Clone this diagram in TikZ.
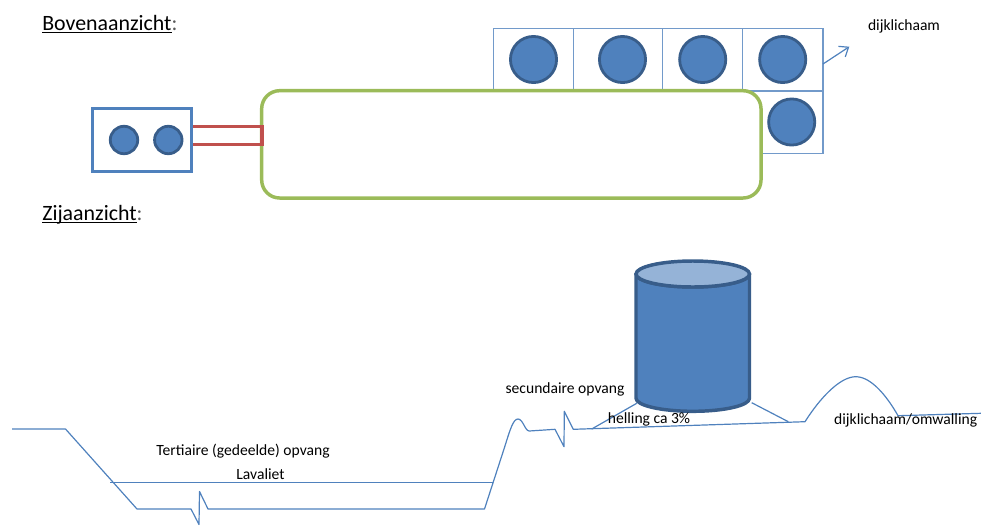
\documentclass[tikz,border=0pt]{standalone}
\usetikzlibrary{arrows.meta}
\usepackage{fontspec}
\setmainfont{Carlito}
\definecolor{bluefill}{HTML}{4F81BD}
\definecolor{bluedark}{HTML}{385D8A}
\definecolor{greenline}{HTML}{9BBB59}
\definecolor{redline}{HTML}{C0504D}
\definecolor{toplight}{HTML}{95B3D7}
\newcommand{\headtext}[1]{\underline{\smash{#1}}\textcolor{black!65}{:}}
\tikzset{
  thinline/.style={draw=bluefill,line width=.9pt,line join=round},
  gridline/.style={draw=bluefill!80,line width=.8pt},
  disc/.style={circle,draw=bluedark,fill=bluefill,line width=2.1pt,inner sep=0pt},
  label/.style={inner sep=0pt,font=\fontsize{11.7pt}{14pt}\selectfont,text=black},
  head/.style={inner sep=0pt,anchor=base west,font=\fontsize{16.4pt}{19pt}\selectfont},
  frame/.style={draw,rectangle,inner sep=0pt,line width=2.6pt}
}
\begin{document}
\begin{tikzpicture}[x=.75pt,y=-.75pt]
\useasboundingbox (0,0) rectangle (981,525);
% top view grid
\draw[gridline] (493.5,91) -- (493.5,28.5) -- (823,28.5) -- (823,153.5) -- (762,153.5);
\draw[gridline] (573.5,28.5) -- (573.5,91);
\draw[gridline] (662.5,28.5) -- (662.5,91);
\draw[gridline] (742.5,28.5) -- (742.5,91) -- (823,91);
\node[frame,draw=greenline,rounded corners=13.5pt,minimum width=374.5pt,minimum height=80.5pt] (basin) at (511.35,144.35) {};
\node[disc,minimum size=34.6pt] (t1) at (533.5,59.5) {};
\node[disc,minimum size=34.6pt] (t2) at (622.5,59.5) {};
\node[disc,minimum size=34.6pt] (t3) at (702.7,59.5) {};
\node[disc,minimum size=34.6pt] (t4) at (782.7,59.5) {};
\node[disc,minimum size=34.6pt] (t5) at (791.7,122) {};
\node[frame,draw=bluefill,minimum width=74.25pt,minimum height=47.25pt] (pump) at (141.8,140.2) {};
\node[disc,minimum size=20.6pt] (p1) at (124,140) {};
\node[disc,minimum size=20.6pt] (p2) at (168.3,140) {};
\coordinate (ra) at (262,126.7);
\coordinate (rb) at (262,144.3);
\draw[draw=redline,line width=2.6pt,line join=miter] (pump.east |- ra) -- (ra) -- (rb) -- (pump.east |- rb);
\coordinate (arrowstart) at (823,64);
\coordinate (arrowend) at (849.3,46.7);
\draw[thinline,-{Straight Barb[length=6pt,width=9.5pt]}] (arrowstart) -- (arrowend);
\node[label] (ldijk) at (904,26) {dijklichaam};
\node[head] (lboven) at (42,30) {\headtext{Bovenaanzicht}};
\node[head] (lzij) at (42,220) {\headtext{Zijaanzicht}};
% side view
\draw[thinline] (12,429) -- (65.5,429) -- (137,509) -- (191,509) -- (199,524.5) -- (199.5,491.5) -- (208,509) -- (484.5,509) -- (504,449)
  .. controls (510,430) and (513,419) .. (518,419)
  .. controls (523,419) and (525,431) .. (529.3,431)
  -- (555,429.3) -- (564,446.7) -- (564.3,411.3) -- (573.3,429.3) -- (805,421.7)
  .. controls (820,398) and (840,376.7) .. (855.7,376.7)
  .. controls (872,376.7) and (888,398) .. (898,415.7)
  -- (981,413.3);
\draw[thinline] (110,482.5) -- (493,482.5);
\draw[thinline] (591.7,429) -- (636.7,403.3);
\draw[thinline] (751.7,402.7) -- (788.3,421.7);
% tank
\draw[draw=bluedark,fill=bluefill,line width=2.6pt,line join=round] (636,274) -- (636,398.3) arc[start angle=180,end angle=0,x radius=56.75,y radius=13] -- (749.5,274) arc[start angle=0,end angle=180,x radius=56.75,y radius=13] -- cycle;
\draw[draw=bluedark,fill=toplight,line width=2.6pt] (692.75,274) ellipse[x radius=56.75,y radius=13];
\node[label] (lter) at (243,451) {Tertiaire (gedeelde) opvang};
\node[label] (llava) at (260.5,474.5) {Lavaliet};
\node[label] (lsec) at (565,389) {secundaire opvang};
\node[label] (lhel) at (649,419.5) {helling ca 3\%};
\node[label] (lomw) at (905.7,420) {dijklichaam/omwalling};
\end{tikzpicture}
\end{document}
